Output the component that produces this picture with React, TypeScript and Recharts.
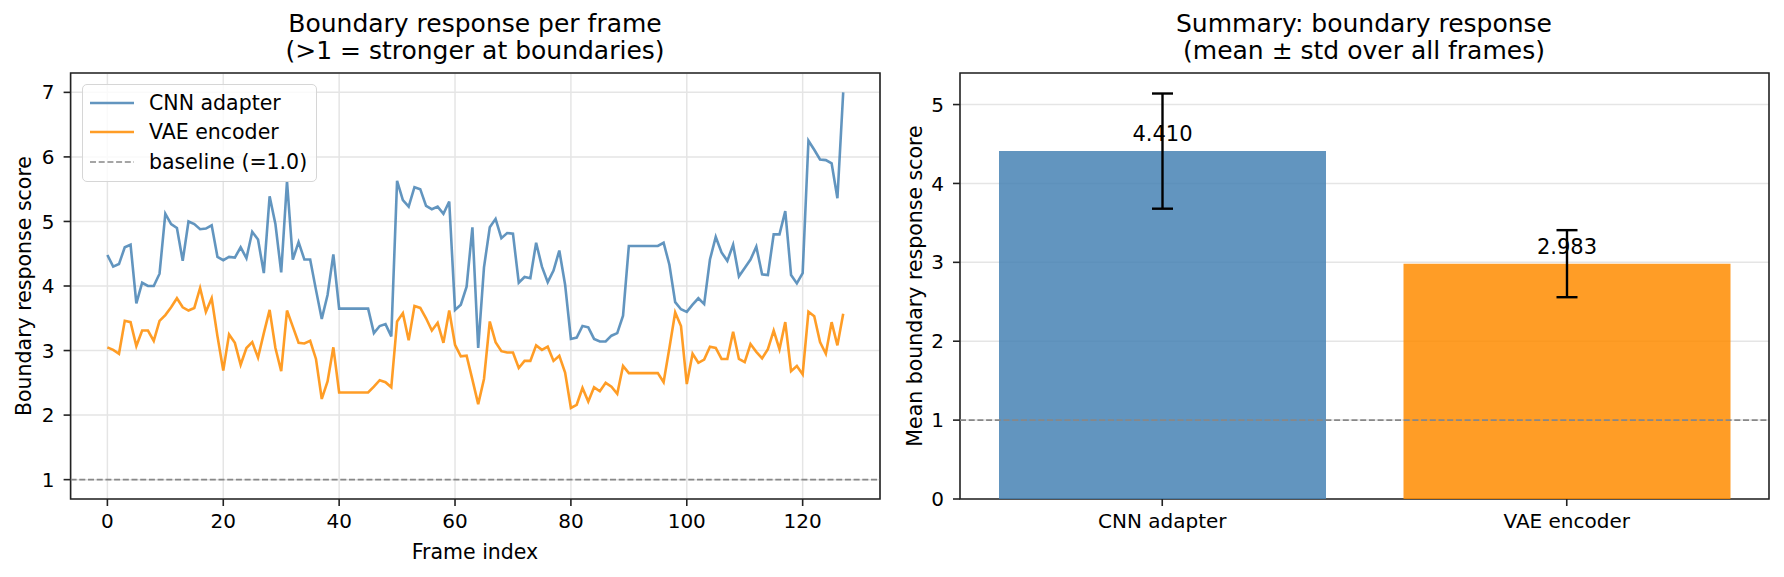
import { LineChart, Line, BarChart, Bar, Cell, XAxis, YAxis, CartesianGrid, ReferenceLine, ReferenceArea, ErrorBar, LabelList } from "recharts";

// per-frame boundary response
const frameIndex = Array.from({ length: 128 }, (_, i) => i);
const cnnAdapter = [
  4.48, 4.30, 4.34, 4.60, 4.64, 3.73, 4.05, 4.00, 4.00, 4.19,
  5.12, 4.96, 4.90, 4.39, 5.00, 4.96, 4.88, 4.89, 4.94, 4.45,
  4.40, 4.45, 4.44, 4.60, 4.43, 4.84, 4.72, 4.20, 5.39, 4.96,
  4.21, 5.62, 4.41, 4.68, 4.41, 4.41, 3.94, 3.49, 3.86, 4.49,
  3.65, 3.65, 3.65, 3.65, 3.65, 3.65, 3.27, 3.38, 3.41, 3.22,
  5.63, 5.33, 5.23, 5.53, 5.50, 5.24, 5.19, 5.23, 5.12, 5.31,
  3.63, 3.71, 3.99, 4.91, 3.04, 4.29, 4.91, 5.04, 4.74, 4.82,
  4.81, 4.05, 4.14, 4.12, 4.67, 4.30, 4.06, 4.24, 4.55, 4.02,
  3.18, 3.20, 3.38, 3.36, 3.18, 3.14, 3.14, 3.23, 3.27, 3.54,
  4.62, 4.62, 4.62, 4.62, 4.62, 4.62, 4.67, 4.33, 3.75, 3.64,
  3.60, 3.71, 3.81, 3.72, 4.41, 4.76, 4.52, 4.39, 4.64, 4.15,
  4.28, 4.41, 4.61, 4.18, 4.17, 4.80, 4.80, 5.16, 4.17, 4.04,
  4.20, 6.25, 6.11, 5.96, 5.95, 5.90, 5.36, 7.00,
];
const vaeEncoder = [
  3.05, 3.01, 2.95, 3.46, 3.44, 3.07, 3.31, 3.31, 3.15, 3.46,
  3.55, 3.67, 3.81, 3.67, 3.62, 3.66, 3.97, 3.60, 3.81, 3.22,
  2.69, 3.25, 3.12, 2.78, 3.04, 3.13, 2.89, 3.27, 3.63, 3.04,
  2.68, 3.62, 3.37, 3.12, 3.11, 3.15, 2.87, 2.25, 2.52, 3.05,
  2.35, 2.35, 2.35, 2.35, 2.35, 2.35, 2.44, 2.54, 2.51, 2.43,
  3.45, 3.58, 3.16, 3.69, 3.66, 3.50, 3.31, 3.43, 3.12, 3.62,
  3.09, 2.91, 2.92, 2.55, 2.17, 2.56, 3.45, 3.13, 2.99, 2.97,
  2.97, 2.73, 2.84, 2.84, 3.08, 3.01, 3.06, 2.84, 2.92, 2.66,
  2.11, 2.16, 2.42, 2.21, 2.43, 2.37, 2.50, 2.44, 2.33, 2.76,
  2.65, 2.65, 2.65, 2.65, 2.65, 2.65, 2.51, 3.04, 3.59, 3.38,
  2.48, 2.95, 2.81, 2.86, 3.06, 3.04, 2.87, 2.87, 3.29, 2.87,
  2.82, 3.10, 2.98, 2.88, 3.02, 3.31, 3.02, 3.44, 2.68, 2.76,
  2.63, 3.60, 3.53, 3.13, 2.95, 3.44, 3.08, 3.57,
];
const frameTicks = [0, 20, 40, 60, 80, 100, 120];
const scoreTicks = [1, 2, 3, 4, 5, 6, 7];

// summary
const models = ["CNN adapter", "VAE encoder"];
const meanScores = [4.41, 2.983];
const stdScores = [0.73, 0.425];
const meanTicks = [0, 1, 2, 3, 4, 5];

const BLUE = "steelblue";
const ORANGE = "darkorange";
const FONT = "'DejaVu Sans', sans-serif";
const SPINE = "#222";
const GRID = "#e5e5e5";
const LW = 2.6;

const lineData = frameIndex.map((f, i) => ({ frame: f, cnn: cnnAdapter[i], vae: vaeEncoder[i] }));
const barData = models.map((m, i) => ({ model: m, mean: meanScores[i], std: stdScores[i] }));

const tickStyle = { fontSize: 20, fill: "#000" };
const tickLine = { stroke: SPINE, strokeWidth: 1.6 };

function Title({ x, lines }: { x: number; lines: string[] }) {
  return <div style={{ position: "absolute", left: x - 300, width: 600, top: 10, textAlign: "center", fontSize: 25, lineHeight: "27px" }}>
    {lines.map(l => <div key={l}>{l}</div>)}
  </div>
}

function YLabel({ x, y, text }: { x: number; y: number; text: string }) {
  return <div style={{ position: "absolute", left: x, top: y, fontSize: 20.5, whiteSpace: "nowrap", transform: "translate(-50%, -50%) rotate(-90deg)" }}>{text}</div>
}

function LegendBox() {
  const items = [
    { label: "CNN adapter", color: BLUE, dash: undefined, op: 0.85 },
    { label: "VAE encoder", color: ORANGE, dash: undefined, op: 0.85 },
    { label: "baseline (=1.0)", color: "#888", dash: "6 2.7", op: 1 },
  ];
  return <div style={{ position: "absolute", left: 82, top: 84, width: 235, height: 98, border: "1.5px solid #d6d6d6", borderRadius: 5, background: "rgba(255,255,255,0.8)", boxSizing: "border-box" }}>
    {items.map((it, i) => <div key={it.label} style={{ position: "absolute", left: 0, top: 3 + i * 29.5, height: 29, display: "flex", alignItems: "center", fontSize: 20.5, whiteSpace: "nowrap" }}>
      <svg width={60} height={10} style={{ marginLeft: 6 }}>
        <line x1={1} x2={45} y1={5} y2={5} stroke={it.color} strokeOpacity={it.op} strokeWidth={it.dash ? 1.6 : LW} strokeDasharray={it.dash} />
      </svg>
      <span>{it.label}</span>
    </div>)}
  </div>
}

export default function App() {
  return <div style={{ position: "absolute", left: 0, top: 0, width: 1784, height: 577, background: "#fff", fontFamily: FONT, color: "#000" }}>
    <div style={{ position: "absolute", left: 0, top: 0 }}>
      <LineChart width={900} height={577} data={lineData} margin={{ top: 73, right: 20, bottom: 48, left: 20.6 }}>
        <CartesianGrid stroke={GRID} strokeWidth={1.5} />
        <XAxis dataKey="frame" type="number" domain={[-6.35, 133.35]} ticks={frameTicks} allowDataOverflow
          height={30} tick={tickStyle} tickLine={tickLine} tickSize={7} tickMargin={8} axisLine={false} />
        <YAxis type="number" domain={[0.7, 7.3]} ticks={scoreTicks} allowDataOverflow
          width={50} tick={tickStyle} tickLine={tickLine} tickSize={7} tickMargin={9} axisLine={false} />
        <ReferenceLine y={1} stroke="#888" strokeWidth={1.6} strokeDasharray="6 2.7" />
        <Line type="linear" dataKey="cnn" stroke={BLUE} strokeOpacity={0.85} strokeWidth={LW} dot={false} isAnimationActive={false} />
        <Line type="linear" dataKey="vae" stroke={ORANGE} strokeOpacity={0.85} strokeWidth={LW} dot={false} isAnimationActive={false} />
        <ReferenceArea x1={-6.35} x2={133.35} y1={0.7} y2={7.3} fill="none" fillOpacity={0} stroke={SPINE} strokeWidth={1.6} ifOverflow="visible" />
      </LineChart>
    </div>
    <div style={{ position: "absolute", left: 900, top: 0 }}>
      <BarChart width={884} height={577} data={barData} margin={{ top: 73, right: 15, bottom: 48, left: 10 }} barCategoryGap={39}>
        <CartesianGrid stroke={GRID} strokeWidth={1.5} vertical={false} />
        <XAxis dataKey="model" height={30} tick={tickStyle} tickLine={tickLine} tickSize={7} tickMargin={8} axisLine={false} />
        <YAxis type="number" domain={[0, 5.4]} ticks={meanTicks} allowDataOverflow
          width={50} tick={tickStyle} tickLine={tickLine} tickSize={7} tickMargin={9} axisLine={false} />
        <Bar dataKey="mean" fillOpacity={0.85} isAnimationActive={false}>
          {barData.map((d, i) => <Cell key={d.model} fill={i === 0 ? BLUE : ORANGE} />)}
          <LabelList dataKey="mean" position="top" offset={10} formatter={(v: any) => Number(v).toFixed(3)} style={{ fontSize: 21, fill: "#000" }} />
          <ErrorBar dataKey="std" direction="y" width={10.5} stroke="#000" strokeWidth={2.4} />
        </Bar>
        <ReferenceLine y={1} stroke="#888" strokeWidth={1.6} strokeDasharray="6 2.7" />
        <ReferenceArea y1={0} y2={5.4} fill="none" fillOpacity={0} stroke={SPINE} strokeWidth={1.6} ifOverflow="visible" />
      </BarChart>
    </div>
    <Title x={475} lines={["Boundary response per frame", "(>1 = stronger at boundaries)"]} />
    <Title x={1364} lines={["Summary: boundary response", "(mean \u00b1 std over all frames)"]} />
    <YLabel x={24} y={286} text="Boundary response score" />
    <YLabel x={915} y={286} text="Mean boundary response score" />
    <div style={{ position: "absolute", left: 475, top: 552, transform: "translate(-50%, -50%)", fontSize: 20.5, whiteSpace: "nowrap" }}>Frame index</div>
    <LegendBox />
  </div>
}
